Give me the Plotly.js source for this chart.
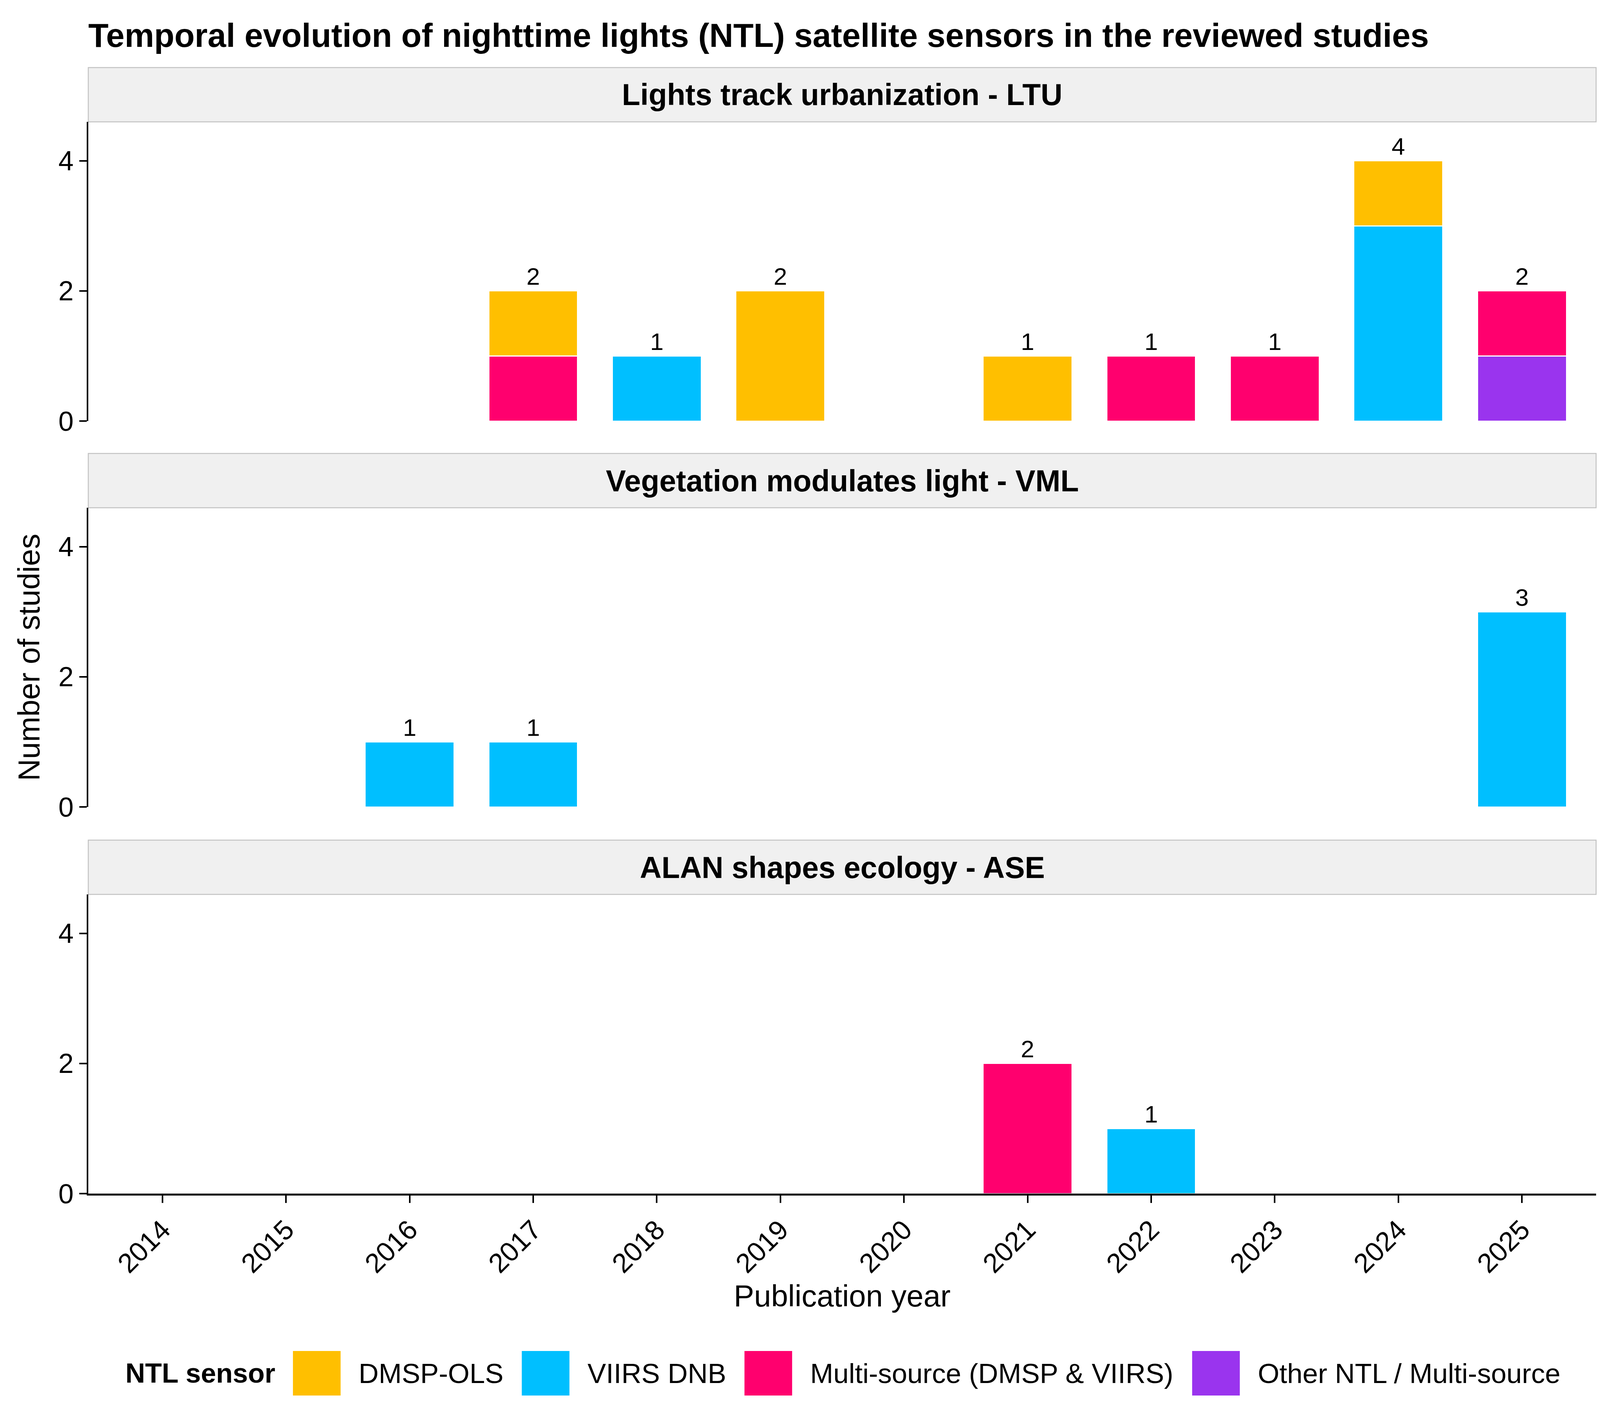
<!DOCTYPE html>
<html>
<head>
<meta charset="utf-8">
<script src="https://cdn.plot.ly/plotly-3.0.1.min.js"></script>
<style>
  body { margin: 0; background: #fff; }
  #chart { width: 4162px; height: 3628px; }
</style>
</head>
<body>
<div id="chart"></div>
<script>
// NTL sensor timeline, one facet per research theme (stacked counts per year)

const years = ["2014", "2015", "2016", "2017", "2018", "2019",
               "2020", "2021", "2022", "2023", "2024", "2025"];

const sensors = ["DMSP-OLS", "VIIRS DNB", "Multi-source (DMSP & VIIRS)", "Other NTL / Multi-source"];
const sensorColors = ["#FFBF00", "#00BFFF", "#FF006E", "#9A34EE"];

const themes = ["Lights track urbanization - LTU", "Vegetation modulates light - VML", "ALAN shapes ecology - ASE"];

// counts per year, order follows `years`
const ltuDmsp  = [0, 0, 0, 1, 0, 2, 0, 1, 0, 0, 1, 0];
const ltuViirs = [0, 0, 0, 0, 1, 0, 0, 0, 0, 0, 3, 0];
const ltuMulti = [0, 0, 0, 1, 0, 0, 0, 0, 1, 1, 0, 1];
const ltuOther = [0, 0, 0, 0, 0, 0, 0, 0, 0, 0, 0, 1];

const vmlDmsp  = [0, 0, 0, 0, 0, 0, 0, 0, 0, 0, 0, 0];
const vmlViirs = [0, 0, 1, 1, 0, 0, 0, 0, 0, 0, 0, 3];
const vmlMulti = [0, 0, 0, 0, 0, 0, 0, 0, 0, 0, 0, 0];
const vmlOther = [0, 0, 0, 0, 0, 0, 0, 0, 0, 0, 0, 0];

const aseDmsp  = [0, 0, 0, 0, 0, 0, 0, 0, 0, 0, 0, 0];
const aseViirs = [0, 0, 0, 0, 0, 0, 0, 0, 1, 0, 0, 0];
const aseMulti = [0, 0, 0, 0, 0, 0, 0, 2, 0, 0, 0, 0];
const aseOther = [0, 0, 0, 0, 0, 0, 0, 0, 0, 0, 0, 0];

const themeCounts = [
    [ltuDmsp, ltuViirs, ltuMulti, ltuOther],
    [vmlDmsp, vmlViirs, vmlMulti, vmlOther],
    [aseDmsp, aseViirs, aseMulti, aseOther],
];

// ---- geometry (figure pixels) ----
const W = 4162, H = 3628;
const FONT = "Liberation Sans, Arial, sans-serif";
const plotL = 226, plotR = 4086;
const panelPx = [  // strip top, plot top, plot bottom
    { strip: 173, top: 312, bottom: 1078 },
    { strip: 1161, top: 1300, bottom: 2066 },
    { strip: 2151, top: 2290, bottom: 3056 },
];
const px = x => x / W;
const py = y => 1 - y / H;

const traces = [];
const axisIds = ["y", "y2", "y3"];

themeCounts.forEach((counts, p) => {
    // stack from bottom: Other, Multi-source, VIIRS, DMSP
    for (let s = sensors.length - 1; s >= 0; s--) {
        traces.push({
            type: "bar",
            x: years,
            y: counts[s].map(v => (v === 0 ? null : v)),
            name: sensors[s],
            yaxis: axisIds[p],
            xaxis: "x",
            width: 0.72,
            marker: { color: sensorColors[s], line: { color: "#ffffff", width: 3 } },
            showlegend: false,
            hoverinfo: "skip",
        });
    }
    const totals = years.map((_, i) => counts.reduce((a, c) => a + c[i], 0));
    const keep = totals.map((t, i) => t > 0 ? i : -1).filter(i => i >= 0);
    traces.push({
        type: "scatter",
        mode: "text",
        x: keep.map(i => years[i]),
        y: keep.map(i => totals[i]),
        text: keep.map(i => String(totals[i])),
        textposition: "top center",
        textfont: { family: FONT, size: 62, color: "#000" },
        yaxis: axisIds[p],
        xaxis: "x",
        cliponaxis: false,
        showlegend: false,
        hoverinfo: "skip",
    });
});

function yAxis(p, extra) {
    return Object.assign({
        domain: [py(panelPx[p].bottom), py(panelPx[p].top)],
        range: [0, 4.6],
        tickvals: [0, 2, 4],
        ticks: "outside", ticklen: 19, tickwidth: 4, tickcolor: "#000",
        tickfont: { family: FONT, size: 70, color: "#000" },
        showline: true, linecolor: "#000", linewidth: 4.5,
        showgrid: false, zeroline: false,
        anchor: "x", fixedrange: true,
    }, extra || {});
}

const shapes = [];
const annotations = [];

panelPx.forEach((g, p) => {
    shapes.push({
        type: "rect", xref: "paper", yref: "paper",
        x0: px(plotL), x1: px(plotR), y0: py(g.top), y1: py(g.strip),
        fillcolor: "#F0F0F0", line: { color: "#C2C2C2", width: 2.5 },
        layer: "below",
    });
    annotations.push({
        xref: "paper", yref: "paper",
        x: px((plotL + plotR) / 2), y: py((g.strip + g.top) / 2),
        xanchor: "center", yanchor: "middle", showarrow: false,
        text: themes[p],
        font: { family: FONT, size: 77, color: "#000", weight: "bold" },
    });
});

// ---- legend with large keys, laid out from measured text widths ----
const ctx = document.createElement("canvas").getContext("2d");
function textWidth(s, size, bold) {
    ctx.font = (bold ? "bold " : "") + size + "px 'Liberation Sans'";
    return ctx.measureText(s).width;
}
const legY = 3516, keyW = 122, keyH = 114, gapKey = 45, gapItem = 48, legCenter = 2158;
const legTitle = "NTL sensor";
const titleW = textWidth(legTitle, 70, true);
const itemW = sensors.map(s => textWidth(s, 71, false));
const totalW = titleW + sensors.length * (gapKey + keyW + gapKey) +
    itemW.reduce((a, b) => a + b, 0) + (sensors.length - 1) * (gapItem - gapKey);
let cx = legCenter - totalW / 2;
annotations.push({
    xref: "paper", yref: "paper", x: px(cx), y: py(legY),
    xanchor: "left", yanchor: "middle", showarrow: false, borderpad: 0,
    text: legTitle, font: { family: FONT, size: 70, color: "#000", weight: "bold" },
});
cx += titleW + gapKey;
sensors.forEach((s, i) => {
    shapes.push({
        type: "rect", xref: "paper", yref: "paper",
        x0: px(cx), x1: px(cx + keyW), y0: py(legY + keyH / 2), y1: py(legY - keyH / 2),
        fillcolor: sensorColors[i], line: { width: 0 },
    });
    cx += keyW + gapKey;
    annotations.push({
        xref: "paper", yref: "paper", x: px(cx), y: py(legY),
        xanchor: "left", yanchor: "middle", showarrow: false, borderpad: 0,
        text: s, font: { family: FONT, size: 71, color: "#000" },
    });
    cx += itemW[i] + gapItem;
});

const layout = {
    width: W, height: H,
    margin: { l: 0, r: 0, t: 0, b: 0 },
    paper_bgcolor: "#fff", plot_bgcolor: "rgba(0,0,0,0)",
    font: { family: FONT, color: "#000" },
    barmode: "stack",
    showlegend: false,
    hovermode: false,
    title: {
        text: "Temporal evolution of nighttime lights (NTL) satellite sensors in the reviewed studies",
        xref: "container", yref: "container",
        x: px(226), xanchor: "left", y: py(90), yanchor: "middle",
        font: { family: FONT, size: 85, color: "#000", weight: "bold" },
    },
    xaxis: {
        domain: [px(plotL), px(plotR)],
        type: "category", categoryorder: "array", categoryarray: years,
        range: [-0.6, years.length - 0.4],
        anchor: "y3",
        tickangle: -45,
        ticks: "outside", ticklen: 19, tickwidth: 4, tickcolor: "#000",
        tickfont: { family: FONT, size: 70, color: "#000" },
        showline: true, linecolor: "#000", linewidth: 4.5,
        showgrid: false, zeroline: false, fixedrange: true,
        title: { text: "Publication year", standoff: 5, font: { family: FONT, size: 78, color: "#000" } },
    },
    yaxis: yAxis(0),
    yaxis2: yAxis(1, {
        title: { text: "Number of studies", standoff: 24, font: { family: FONT, size: 78, color: "#000" } },
    }),
    yaxis3: yAxis(2),
    shapes: shapes,
    annotations: annotations,
};

Plotly.newPlot("chart", traces, layout, { displayModeBar: false, staticPlot: true });
</script>
</body>
</html>
